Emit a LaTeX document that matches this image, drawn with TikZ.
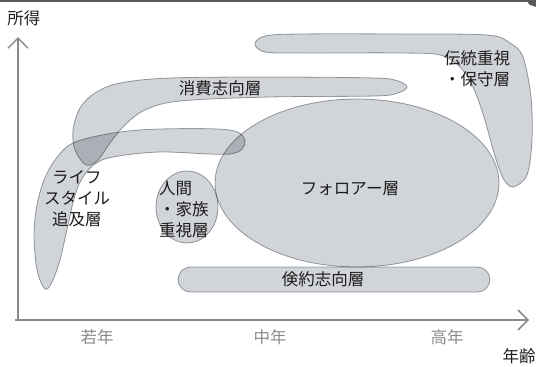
\documentclass[tikz,border=0pt]{standalone}
\usepackage{fontspec}
\newfontfamily\jp{Noto Sans CJK JP}
\usetikzlibrary{arrows.meta}
\definecolor{zonefill}{RGB}{209,212,216}
\definecolor{zoneline}{RGB}{160,164,168}
\definecolor{axisgray}{RGB}{138,138,138}
\definecolor{txt}{RGB}{30,28,28}
\definecolor{topbar}{RGB}{90,90,90}
\begin{document}
\begin{tikzpicture}[x=1pt,y=-1pt,
  zone/.style={fill=zonefill, draw=zoneline, line width=0.8pt, blend mode=multiply},
  lbl/.style={font=\jp\fontsize{16.5}{21}\selectfont, text=txt, inner sep=0pt},
  axlbl/.style={font=\jp\fontsize{16.5}{20}\selectfont, text=axisgray, inner sep=0pt},
  axis/.style={draw=axisgray, line width=1.8pt, -{Straight Barb[length=10pt,width=20pt,line width=1.5pt]}}]
\useasboundingbox (0,0) rectangle (536,367);
% top bar
\fill[topbar] (0,0) rectangle (528,1.6);
\fill[topbar] (527,0) -- (536,0) -- (536,7) -- (529,4.5) -- cycle;
% axes
\coordinate (origin) at (18,320);
\coordinate (ytip) at (18,37);
\coordinate (xtip) at (529,320);
\draw[axis] (18,321) -- (ytip);
\draw[axis] (15,320) -- (xtip);
% zones
\draw[zone] (357,183) ellipse [x radius=142, y radius=84];
\draw[zone] (187,207) ellipse [x radius=31, y radius=36];
\draw[zone, rounded corners=12.5pt] (178,267) rectangle (490,292);
% lifestyle
\draw[zone] plot[smooth cycle, tension=0.55] coordinates {
 (45,289) (37,270) (34,235) (37,205) (44,180) (55,160) (73,143) (113,133) (160,129) (230,130) (245,142)
 (230,154) (160,152) (113,157) (95,164) (83,177) (75,195) (68,225) (60,260) (52,282)};
% consumption
\draw[zone] plot[smooth cycle, tension=0.55] coordinates {
 (86,165) (75,150) (73,130) (80,108) (95,93) (120,83) (170,78) (270,77) (375,78) (398,81) (407,87)
 (398,93) (375,96) (270,97) (180,101) (145,110) (125,125) (110,143) (98,160)};
% tradition
\draw[zone] plot[smooth cycle, tension=0.55] coordinates {
 (255,44) (265,36) (300,34) (400,34) (487,35) (510,43) (523,57) (531,97) (532,140) (527,175) (513,187)
 (503,178) (494,153) (484,117) (473,87) (460,67) (440,55) (400,53) (300,53) (265,52)};
% labels
\node[lbl] (shohi) at (220,88) {消費志向層};
\node[lbl, anchor=west, align=left] (dento) at (444,69) {伝統重視\\・保守層};
\node[lbl, align=center] (life) at (77,199) {ライフ\\スタイル\\追及層};
\node[lbl, anchor=west, align=left] (ningen) at (159,209) {人間\\・家族\\重視層};
\node[lbl] (follower) at (350,189) {フォロアー層};
\node[lbl] (kenyaku) at (323,279) {倹約志向層};
\node[lbl] (shotoku) at (24,18) {所得};
\node[lbl] (nenrei) at (519,356) {年齢};
\node[axlbl] (jakunen) at (97,337) {若年};
\node[axlbl] (chunen) at (270,337) {中年};
\node[axlbl] (konen) at (447,337) {高年};
\end{tikzpicture}
\end{document}
